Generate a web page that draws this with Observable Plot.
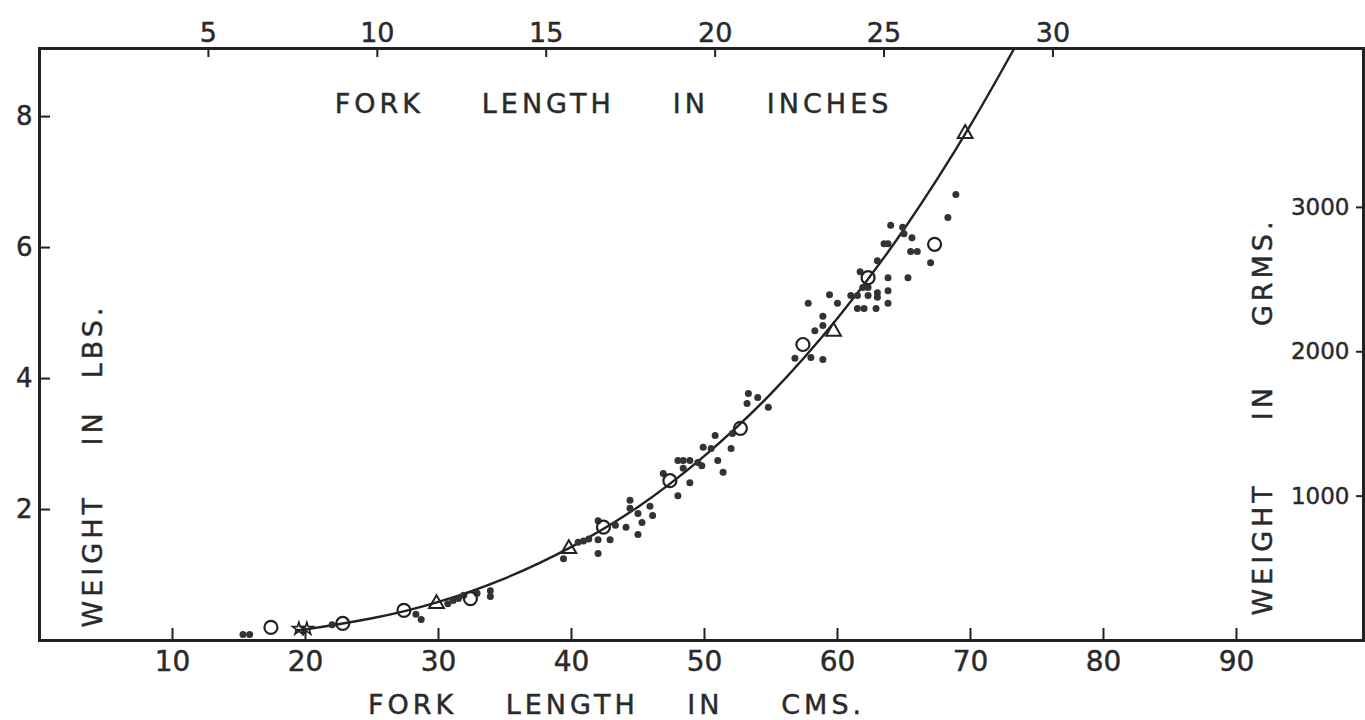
<!DOCTYPE html>
<html>
<head>
<meta charset="utf-8">
<script src="https://cdn.jsdelivr.net/npm/d3@7"></script>
<script src="https://cdn.jsdelivr.net/npm/@observablehq/plot@0.6"></script>
<style>
  html, body { margin: 0; padding: 0; background: #fff; }
  svg text { font-family: "DejaVu Sans", sans-serif; stroke: #2a2a2a; stroke-width: 0.45px; }
</style>
</head>
<body>
<div id="chart"></div>
<script>
// ---- Data ----
const cmTicks = [10, 20, 30, 40, 50, 60, 70, 80, 90];
const inchTicks = [5, 10, 15, 20, 25, 30];
const lbTicks = [2, 4, 6, 8];
const gramTicks = [1000, 2000, 3000];

// small filled dots: fork length (cm), weight (lb)
const dotLength = [15.3, 15.8, 22.0, 28.3, 28.7, 30.7, 31.1, 31.5, 31.9, 32.9, 33.9, 33.9,
  39.4, 40.5, 40.9, 41.3, 42.0, 42.0, 42.9, 42.0, 43.3, 44.1, 44.4, 44.4, 45.0, 45.3, 45.0,
  46.1, 45.9, 46.9, 48.0, 48.0, 48.4, 48.9, 48.4, 48.9, 49.9, 50.5, 50.8, 51.0, 51.4, 52.0,
  49.5, 49.8, 52.1, 53.3, 54.0, 53.2, 54.8, 56.8, 58.0, 58.9, 57.8, 59.4, 60.0, 58.3, 58.9,
  58.9, 61.0, 61.5, 61.5, 62.0, 62.9, 61.7, 61.9, 62.3, 62.3, 63.0, 63.0, 63.8, 63.8, 63.8,
  63.0, 63.5, 63.8, 64.0, 64.9, 65.0, 65.6, 65.5, 66.0, 65.3, 67.0, 68.3, 68.9];
const dotWeight = [0.09, 0.09, 0.24, 0.40, 0.32, 0.56, 0.61, 0.64, 0.69, 0.72, 0.76, 0.67,
  1.25, 1.50, 1.52, 1.55, 1.83, 1.54, 1.54, 1.33, 1.76, 1.73, 2.14, 2.02, 1.94, 1.80, 1.62,
  1.91, 2.05, 2.55, 2.21, 2.75, 2.75, 2.75, 2.63, 2.41, 2.95, 2.93, 3.13, 2.75, 2.57, 2.93,
  2.72, 2.67, 3.16, 3.77, 3.71, 3.62, 3.56, 4.31, 4.32, 4.29, 5.15, 5.28, 5.15, 4.73, 4.95,
  4.81, 5.27, 5.27, 5.07, 5.07, 5.07, 5.63, 5.39, 5.39, 5.27, 5.31, 5.24, 5.54, 5.34, 5.15,
  5.80, 6.06, 6.06, 6.34, 6.31, 6.21, 6.15, 5.94, 5.94, 5.54, 5.77, 6.46, 6.81];

// open circles
const circleLength = [17.4, 22.8, 27.4, 32.4, 42.4, 47.4, 52.7, 57.4, 62.3, 67.3];
const circleWeight = [0.20, 0.26, 0.46, 0.64, 1.73, 2.44, 3.24, 4.52, 5.54, 6.05];

// open triangles
const triLength = [29.85, 39.8, 59.7, 69.6];
const triWeight = [0.56, 1.40, 4.72, 7.74];

// small stars
const starLength = [19.5, 20.1];
const starWeight = [0.18, 0.18];

// fitted curve
const curveLength = [19.5, 20, 25, 30, 35, 40, 45, 50, 55, 60, 65, 70, 73.4, 75];
const curveWeight = [0.16, 0.17, 0.34, 0.59, 0.95, 1.43, 2.04, 2.82, 3.77, 4.92, 6.28, 7.87, 9.08, 9.62];

// axis titles
const topTitle = "FORK\u2003\u2002\u2009LENGTH\u2003\u2002\u2009IN\u2003\u2002\u2009INCHES";
const bottomTitle = "FORK\u2003\u2002LENGTH\u2003\u2002IN\u2003\u2002\u2009CMS.";
const leftTitle = "WEIGHT\u2003\u2002IN\u2003LBS.";
const rightTitle = "WEIGHT\u2003\u2003IN\u2003\u2002\u2009GRMS.";

const LB_PER_GRAM = 1 / 453.6;
const CM_PER_INCH = 2.54;

const zip = (xs, ys) => xs.map((x, i) => ({x, y: ys[i]}));
const dots = zip(dotLength, dotWeight);
const circles = zip(circleLength, circleWeight);
const tris = zip(triLength, triWeight);
const stars = zip(starLength, starWeight);
const curve = zip(curveLength, curveWeight);

const W = 1365, H = 720;
const mL = 39, mR = 2, mT = 48, mB = 80;
const innerW = W - mL - mR, innerH = H - mT - mB;
const ink = "#222";
const textInk = "#2a2a2a";

const chart = Plot.plot({
  width: W,
  height: H,
  marginLeft: mL,
  marginRight: mR,
  marginTop: mT,
  marginBottom: mB,
  style: {background: "#fff", color: textInk},
  x: {domain: [0, 99.55], axis: null},
  y: {domain: [0, 9.04], axis: null},
  marks: [
    Plot.frame({stroke: ink, strokeWidth: 3}),
    // bottom axis (cm): ticks inward, labels below
    Plot.tickX(cmTicks, {x: d => d, insetTop: innerH - 12, stroke: ink, strokeWidth: 2}),
    Plot.axisX({anchor: "bottom", ticks: cmTicks, tickSize: 0, tickPadding: 11, fontSize: 28,
      tickFormat: d => String(d), label: null, fill: textInk}),
    // top axis (inches)
    Plot.tickX(inchTicks, {x: d => d * CM_PER_INCH, insetBottom: innerH - 9, stroke: ink, strokeWidth: 2}),
    Plot.text(inchTicks, {x: d => d * CM_PER_INCH, frameAnchor: "top", dy: -15, text: d => String(d),
      fontSize: 27, lineAnchor: "middle", fill: textInk}),
    // left axis (lbs)
    Plot.tickY(lbTicks, {y: d => d, insetRight: innerW - 11, stroke: ink, strokeWidth: 2}),
    Plot.axisY({anchor: "left", ticks: lbTicks, tickSize: 0, tickPadding: 7, fontSize: 26,
      label: null, fill: textInk}),
    // right axis (grams): labels inside the frame
    Plot.tickY(gramTicks, {y: d => d * LB_PER_GRAM, insetLeft: innerW - 7, stroke: ink, strokeWidth: 2}),
    Plot.text(gramTicks, {y: d => d * LB_PER_GRAM, frameAnchor: "right", dx: -14, textAnchor: "end",
      text: d => String(d), fontSize: 23, fill: textInk}),
    // axis titles
    Plot.text([topTitle], {frameAnchor: "top", dx: -88, dy: 56, textAnchor: "middle",
      fontSize: 27, lineAnchor: "middle", fill: textInk}),
    Plot.text([bottomTitle], {frameAnchor: "bottom", dx: -85, dy: 65, textAnchor: "middle",
      fontSize: 27, lineAnchor: "middle", fill: textInk}),
    Plot.text([leftTitle], {frameAnchor: "left", dx: 54, dy: 121, rotate: -90, textAnchor: "middle",
      fontSize: 27, lineAnchor: "middle", fill: textInk}),
    Plot.text([rightTitle], {frameAnchor: "right", dx: -100, dy: 72, rotate: -90, textAnchor: "middle",
      fontSize: 27, lineAnchor: "middle", fill: textInk}),
    // curve
    Plot.line(curve, {x: "x", y: "y", curve: "natural", stroke: ink, strokeWidth: 2.4, clip: true}),
    // observations
    Plot.dot(dots, {x: "x", y: "y", r: 3.5, fill: "#333", stroke: "none"}),
    Plot.dot(circles, {x: "x", y: "y", r: 6.5, fill: "none", stroke: ink, strokeWidth: 2.2}),
    Plot.dot(tris, {x: "x", y: "y", symbol: "triangle", r: 5.5, fill: "none", stroke: ink, strokeWidth: 2}),
    Plot.dot(stars, {x: "x", y: "y", symbol: "star", r: 4, fill: "none", stroke: ink, strokeWidth: 1.6})
  ]
});
// widen the lettering of the axis titles
d3.select(chart).selectAll("text")
  .filter(function () { return /FORK|WEIGHT/.test(this.textContent); })
  .style("letter-spacing", "4px");
document.getElementById("chart").appendChild(chart);
</script>
</body>
</html>
